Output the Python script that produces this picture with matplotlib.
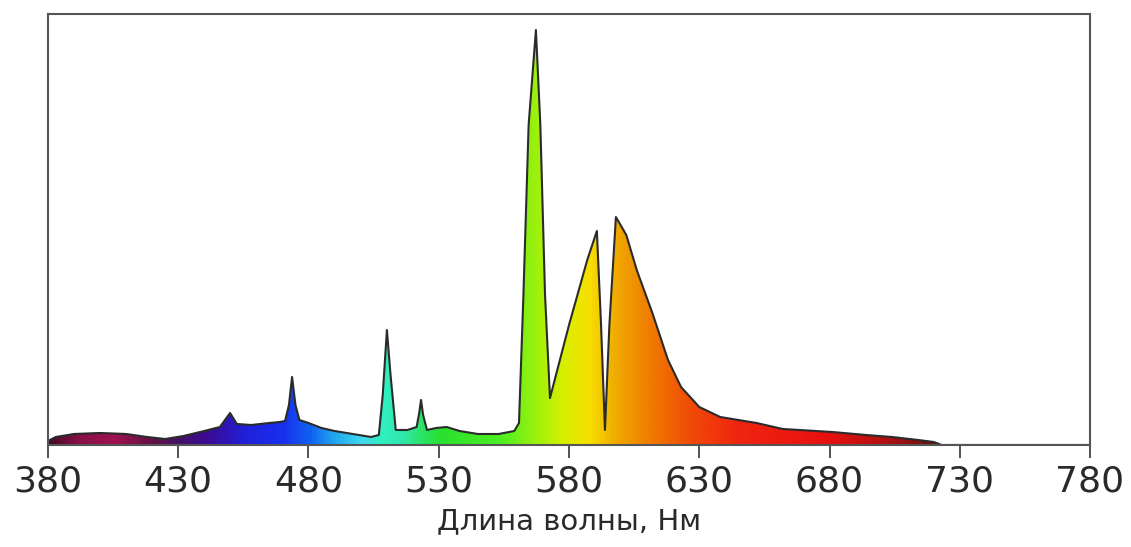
import matplotlib.pyplot as plt
import numpy as np
from matplotlib.colors import LinearSegmentedColormap

# spectrum (height in arbitrary units, 0..431)
wavelength = [380, 383, 390, 400, 410, 418, 425, 432, 440, 446, 449.9, 452.5, 458, 465, 469,
              471, 472.5, 473.7, 475, 476.5, 480, 485, 490, 497, 504, 507, 508.5, 510.1, 511.5,
              513.5, 518, 521.5, 522.5, 523.2, 524, 525.5, 529, 533, 538, 545, 553, 559,
              560.8, 562.5, 564.5, 567.3, 569, 570.8, 572.7, 580, 587, 590.7, 592.3, 593.8,
              595.5, 598, 602, 606, 612, 618, 623, 630, 638, 652, 662, 681, 694, 704, 714,
              720, 723, 780]
intensity = [4, 8, 11, 12, 11, 8, 6, 9, 14, 18, 32, 21, 20, 22, 23,
             24, 40, 68, 40, 25, 22, 17, 14, 11, 8, 10, 50, 115, 70,
             15, 15, 18, 32, 45, 30, 15, 17, 18, 14, 11, 11, 14,
             22, 150, 320, 415, 320, 150, 47, 120, 185, 214, 120, 15,
             120, 228, 210, 175, 132, 85, 58, 38, 28, 22, 16, 13, 10, 8, 5,
             3, 0, 0]

# colour stops along the wavelength axis
stop_nm = [380, 392, 405, 420, 430, 442, 455, 470, 480, 490, 500, 508, 515, 530, 555,
           565, 578, 588, 597, 610, 628, 645, 680, 700, 725]
stop_col = ['#4a0a28', '#8a1048', '#a01050', '#601045', '#45106a', '#3a0c98', '#2020d8',
            '#1830f0', '#1060f0', '#20a8f0', '#40d8f0', '#30f0c0', '#30e8b0', '#28e030',
            '#50f020', '#90f010', '#d8f000', '#f8e000', '#f0b000', '#f08000', '#f04808',
            '#f02510', '#e81010', '#b81010', '#601010']

xticks = [380, 430, 480, 530, 580, 630, 680, 730, 780]

fig = plt.figure(figsize=(11.31, 5.47), dpi=100)
ax = fig.add_axes([0.0424, 0.1865, 0.9214, 0.7879])

lo, hi = stop_nm[0], stop_nm[-1]
cmap = LinearSegmentedColormap.from_list(
    'spec', [((n - lo) / (hi - lo), c) for n, c in zip(stop_nm, stop_col)])
grad = np.linspace(lo, hi, 800).reshape(1, -1)

poly = ax.fill_between(wavelength, intensity, 0, color='none', lw=0)
img = ax.imshow(grad, extent=[lo, hi, 0, 431], aspect='auto', cmap=cmap,
                origin='lower', interpolation='bilinear', zorder=1)
img.set_clip_path(poly.get_paths()[0], transform=ax.transData)
ax.plot(wavelength, intensity, color='#2b2b2b', lw=1.5, zorder=2)

ax.set_xlim(380, 780)
ax.set_ylim(0, 431)
ax.set_yticks([])
ax.set_xticks(xticks)
ax.tick_params(axis='x', length=9, width=1.3, color='#444444', labelsize=26,
               labelcolor='#2a2a2a', pad=5)
for s in ax.spines.values():
    s.set_color('#555555')
    s.set_linewidth(1.5)
ax.set_xlabel('Длина волны, Нм', fontsize=21, color='#2a2a2a', labelpad=6)

fig.savefig('out.png', dpi=100)
